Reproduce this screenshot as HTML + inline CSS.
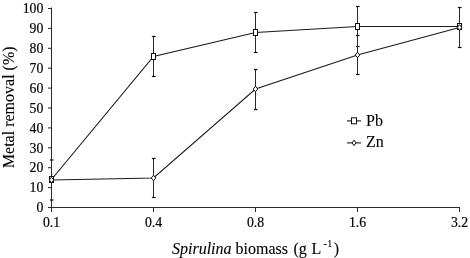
<!DOCTYPE html>
<html><head><meta charset="utf-8"><style>
html,body{margin:0;padding:0;background:#fff;}
body{width:470px;height:258px;overflow:hidden;}
svg{display:block;will-change:transform;}
.k{stroke:#2a2a2a;stroke-width:1.05;}
.c{stroke:#111;stroke-width:1.2;}
.s{stroke:#1a1a1a;stroke-width:1.1;fill:none;}
.m{stroke:#111;stroke-width:1;fill:#fff;}
.t{font-family:"Liberation Serif",serif;font-size:14.5px;fill:#000;stroke:#000;stroke-width:0.2px;}
.t2{font-family:"Liberation Serif",serif;font-size:16px;fill:#000;stroke:#000;stroke-width:0.1px;}
</style></head><body>
<svg width="470" height="258" viewBox="0 0 470 258">
<line x1="51.5" y1="7.5" x2="51.5" y2="212" class="k"/>
<line x1="51" y1="207.5" x2="460" y2="207.5" class="k"/>
<line x1="48" y1="207.50" x2="51.5" y2="207.50" class="k"/>
<line x1="48" y1="187.60" x2="51.5" y2="187.60" class="k"/>
<line x1="48" y1="167.70" x2="51.5" y2="167.70" class="k"/>
<line x1="48" y1="147.80" x2="51.5" y2="147.80" class="k"/>
<line x1="48" y1="127.90" x2="51.5" y2="127.90" class="k"/>
<line x1="48" y1="108.00" x2="51.5" y2="108.00" class="k"/>
<line x1="48" y1="88.10" x2="51.5" y2="88.10" class="k"/>
<line x1="48" y1="68.20" x2="51.5" y2="68.20" class="k"/>
<line x1="48" y1="48.30" x2="51.5" y2="48.30" class="k"/>
<line x1="48" y1="28.40" x2="51.5" y2="28.40" class="k"/>
<line x1="48" y1="8.50" x2="51.5" y2="8.50" class="k"/>
<line x1="51.5" y1="207.5" x2="51.5" y2="212" class="k"/>
<line x1="153.5" y1="207.5" x2="153.5" y2="212" class="k"/>
<line x1="255.5" y1="207.5" x2="255.5" y2="212" class="k"/>
<line x1="357.5" y1="207.5" x2="357.5" y2="212" class="k"/>
<line x1="459.5" y1="207.5" x2="459.5" y2="212" class="k"/>
<text transform="translate(43.3,212.20) scale(0.95,1)" text-anchor="end" class="t">0</text>
<text transform="translate(43.3,192.30) scale(0.95,1)" text-anchor="end" class="t">10</text>
<text transform="translate(43.3,172.40) scale(0.95,1)" text-anchor="end" class="t">20</text>
<text transform="translate(43.3,152.50) scale(0.95,1)" text-anchor="end" class="t">30</text>
<text transform="translate(43.3,132.60) scale(0.95,1)" text-anchor="end" class="t">40</text>
<text transform="translate(43.3,112.70) scale(0.95,1)" text-anchor="end" class="t">50</text>
<text transform="translate(43.3,92.80) scale(0.95,1)" text-anchor="end" class="t">60</text>
<text transform="translate(43.3,72.90) scale(0.95,1)" text-anchor="end" class="t">70</text>
<text transform="translate(43.3,53.00) scale(0.95,1)" text-anchor="end" class="t">80</text>
<text transform="translate(43.3,33.10) scale(0.95,1)" text-anchor="end" class="t">90</text>
<text transform="translate(43.3,13.20) scale(0.95,1)" text-anchor="end" class="t">100</text>
<text transform="translate(51.5,227.4) scale(0.95,1)" text-anchor="middle" class="t">0.1</text>
<text transform="translate(153.5,227.4) scale(0.95,1)" text-anchor="middle" class="t">0.4</text>
<text transform="translate(255.5,227.4) scale(0.95,1)" text-anchor="middle" class="t">0.8</text>
<text transform="translate(357.5,227.4) scale(0.95,1)" text-anchor="middle" class="t">1.6</text>
<text transform="translate(459.5,227.4) scale(0.95,1)" text-anchor="middle" class="t">3.2</text>
<line x1="153.5" y1="36.5" x2="153.5" y2="76.5" class="k"/>
<line x1="151.9" y1="36.5" x2="155.6" y2="36.5" class="c"/>
<line x1="151.9" y1="76.5" x2="155.6" y2="76.5" class="c"/>
<line x1="255.5" y1="12.5" x2="255.5" y2="52.5" class="k"/>
<line x1="253.9" y1="12.5" x2="257.6" y2="12.5" class="c"/>
<line x1="253.9" y1="52.5" x2="257.6" y2="52.5" class="c"/>
<line x1="357.5" y1="6.5" x2="357.5" y2="46.5" class="k"/>
<line x1="355.9" y1="6.5" x2="359.6" y2="6.5" class="c"/>
<line x1="355.9" y1="46.5" x2="359.6" y2="46.5" class="c"/>
<line x1="459.5" y1="7.5" x2="459.5" y2="47.5" class="k"/>
<line x1="457.9" y1="7.5" x2="461.6" y2="7.5" class="c"/>
<line x1="457.9" y1="47.5" x2="461.6" y2="47.5" class="c"/>
<line x1="51.5" y1="160.0" x2="51.5" y2="200.0" class="k"/>
<line x1="49.9" y1="160.0" x2="53.6" y2="160.0" class="c"/>
<line x1="49.9" y1="200.0" x2="53.6" y2="200.0" class="c"/>
<line x1="153.5" y1="158.5" x2="153.5" y2="197.5" class="k"/>
<line x1="151.9" y1="158.5" x2="155.6" y2="158.5" class="c"/>
<line x1="151.9" y1="197.5" x2="155.6" y2="197.5" class="c"/>
<line x1="255.5" y1="69.5" x2="255.5" y2="109.5" class="k"/>
<line x1="253.9" y1="69.5" x2="257.6" y2="69.5" class="c"/>
<line x1="253.9" y1="109.5" x2="257.6" y2="109.5" class="c"/>
<line x1="357.5" y1="35.5" x2="357.5" y2="74.5" class="k"/>
<line x1="355.9" y1="35.5" x2="359.6" y2="35.5" class="c"/>
<line x1="355.9" y1="74.5" x2="359.6" y2="74.5" class="c"/>
<polyline fill="none" class="s" points="51.5,180.0 153.5,178.0 255.5,89.0 357.5,55.0 459.5,27.5"/>
<polyline fill="none" class="s" points="51.5,179.5 153.5,56.5 255.5,32.5 357.5,26.5 459.5,26.5"/>
<rect x="49.50" y="176.50" width="4" height="6" class="m"/>
<rect x="151.50" y="53.50" width="4" height="6" class="m"/>
<rect x="253.50" y="29.50" width="4" height="6" class="m"/>
<rect x="355.50" y="23.50" width="4" height="6" class="m"/>
<rect x="457.50" y="23.50" width="4" height="6" class="m"/>
<polygon points="51.5,177.20 53.75,180.0 51.5,182.80 49.25,180.0" class="m"/>
<polygon points="153.5,175.20 155.75,178.0 153.5,180.80 151.25,178.0" class="m"/>
<polygon points="255.5,86.20 257.75,89.0 255.5,91.80 253.25,89.0" class="m"/>
<polygon points="357.5,52.20 359.75,55.0 357.5,57.80 355.25,55.0" class="m"/>
<polygon points="459.5,24.70 461.75,27.5 459.5,30.30 457.25,27.5" class="m"/>
<line x1="347" y1="120.9" x2="361" y2="120.9" class="s"/>
<rect x="351.50" y="117.80" width="5.0" height="6.0" class="m"/>
<line x1="347" y1="142.9" x2="361" y2="142.9" class="s"/>
<polygon points="354.1,140.10 356.00,142.9 354.1,145.70 352.20,142.9" class="m"/>
<text x="366" y="125.6" class="t2">Pb</text>
<text x="366" y="146.8" class="t2">Zn</text>
<text y="254.4" class="t2"><tspan x="172" font-style="italic">Spirulina</tspan><tspan x="235.6">biomass</tspan><tspan x="293.5">(g</tspan><tspan x="311.4">L</tspan><tspan x="323.4" y="246.5" font-size="10">-</tspan><tspan x="327.2" y="246.5" font-size="10">1</tspan><tspan x="333.7" y="254.4">)</tspan></text>
<text transform="translate(13.8,107.3) rotate(-90)" text-anchor="middle" class="t2">Metal removal (%)</text>
</svg>
</body></html>
